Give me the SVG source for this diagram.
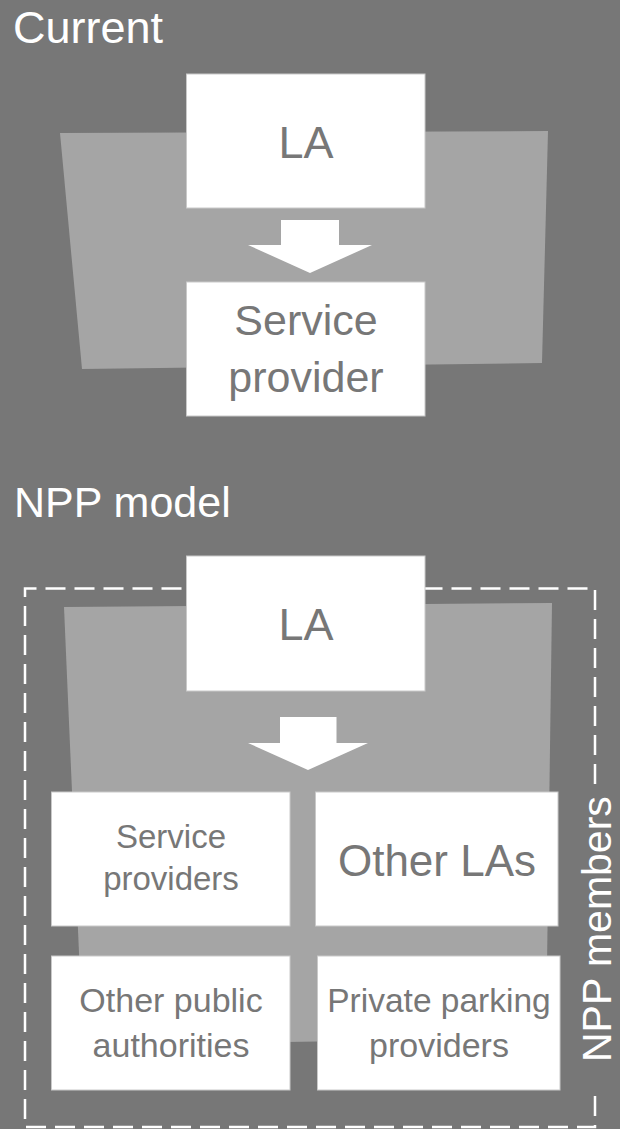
<svg xmlns="http://www.w3.org/2000/svg" width="620" height="1129" viewBox="0 0 620 1129">
<style>
.bg{fill:#777777}
.trap{fill:#a5a5a5}
.box{fill:#ffffff;stroke:#c9c9c9;stroke-width:1}
.arrow{fill:#ffffff}
.t{font-family:"Liberation Sans",Arial,sans-serif;fill:#777777;text-anchor:middle}
.h{font-family:"Liberation Sans",Arial,sans-serif;fill:#ffffff}
.dash{fill:none;stroke:#ffffff;stroke-width:2.5;stroke-dasharray:20 9}
</style>
<rect class="bg" x="0" y="0" width="620" height="1129"/>

<text class="h" x="13" y="43" font-size="45">Current</text>
<polygon class="trap" points="60,133 548,131 542,363 82,369"/>

<text class="h" x="14" y="517" font-size="43">NPP model</text>
<path class="dash" d="M595,784 V588.5 H25 V1127 H595 V1092"/>
<polygon class="trap" points="64,607 552,603 546,1038 83,1045"/>

<g id="connectors">
  <polygon class="arrow" points="281,220 339,220 339,245 372,245 310,273 248,245 281,245"/>
  <polygon class="arrow" points="280,717 336.5,717 336.5,743 368,743 308,770 248,743 280,743"/>
</g>

<g id="la-current">
  <rect class="box" x="186.5" y="74" width="238.5" height="134"/>
  <text class="t" x="306" y="158" font-size="45">LA</text>
</g>
<g id="service-provider">
  <rect class="box" x="186.5" y="282" width="238.5" height="134"/>
  <text class="t" x="306" y="335" font-size="43">Service</text>
  <text class="t" x="306" y="392" font-size="43">provider</text>
</g>

<g id="la-npp">
  <rect class="box" x="186.5" y="556" width="238.5" height="135"/>
  <text class="t" x="306" y="640" font-size="45">LA</text>
</g>
<g id="service-providers">
  <rect class="box" x="51.5" y="792" width="238.5" height="134"/>
  <text class="t" x="171" y="848" font-size="33">Service</text>
  <text class="t" x="171" y="890" font-size="33">providers</text>
</g>
<g id="other-las">
  <rect class="box" x="315.5" y="792" width="242.5" height="134"/>
  <text class="t" x="437" y="876" font-size="44">Other LAs</text>
</g>
<g id="other-public-authorities">
  <rect class="box" x="51.5" y="956" width="238.5" height="134"/>
  <text class="t" x="171" y="1012" font-size="34">Other public</text>
  <text class="t" x="171" y="1057" font-size="34">authorities</text>
</g>
<g id="private-parking-providers">
  <rect class="box" x="317.5" y="956" width="242.5" height="134"/>
  <text class="t" x="439" y="1012" font-size="33.5">Private parking</text>
  <text class="t" x="439" y="1057" font-size="34">providers</text>
</g>

<g id="npp-members-label">
  <text class="h" transform="translate(611,1062) rotate(-90)" x="0" y="0" font-size="41">NPP members</text>
</g>
</svg>
